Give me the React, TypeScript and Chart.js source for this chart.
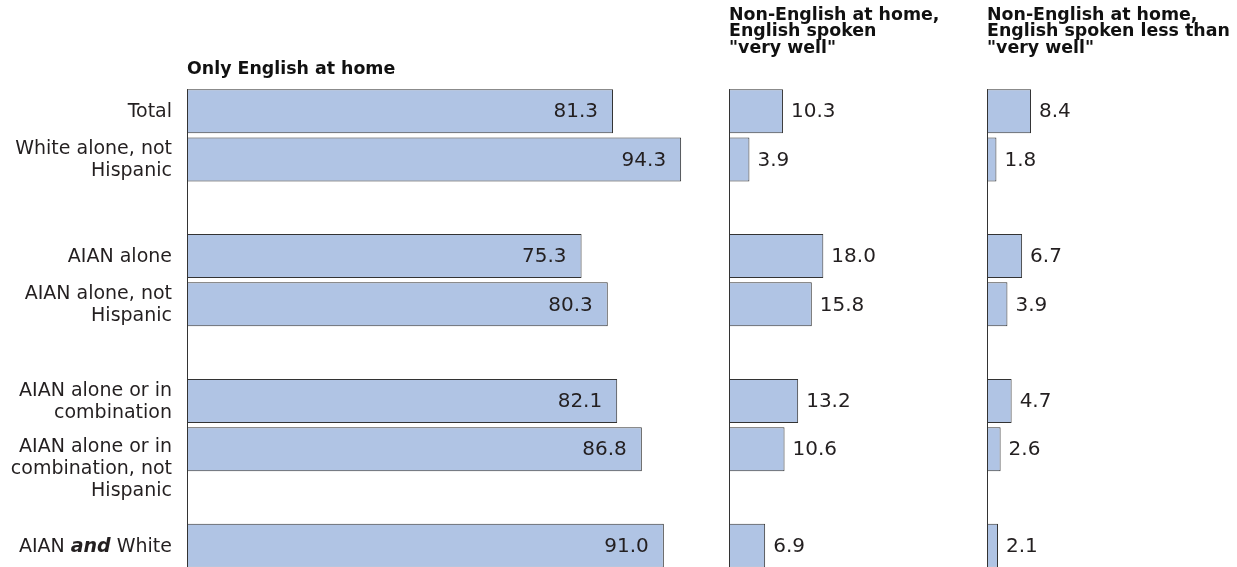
import React, { useEffect, useRef } from 'react';
import { Chart, registerables } from 'chart.js';

Chart.register(...registerables);

// ---- data ----
const categories: string[] = [
  'Total',
  'White alone, not\nHispanic',
  '',
  'AIAN alone',
  'AIAN alone, not\nHispanic',
  '',
  'AIAN alone or in\ncombination',
  'AIAN alone or in\ncombination, not\nHispanic',
  '',
  'AIAN *and* White',
];
const onlyEnglish: (number | null)[] = [81.3, 94.3, null, 75.3, 80.3, null, 82.1, 86.8, null, 91.0];
const veryWell: (number | null)[] = [10.3, 3.9, null, 18.0, 15.8, null, 13.2, 10.6, null, 6.9];
const lessThanVeryWell: (number | null)[] = [8.4, 1.8, null, 6.7, 3.9, null, 4.7, 2.6, null, 2.1];

const title1: string[] = ['Only English at home'];
const title2: string[] = ['Non-English at home,', 'English spoken', '"very well"'];
const title3: string[] = ['Non-English at home,', 'English spoken less than', '"very well"'];

// ---- styles ----
const BAR_FILL = '#b0c4e4';
const BAR_BORDER = '#333333';
const TEXT = '#231f20';
const LABEL_FONT = '19px "DejaVu Sans"';
const LABEL_BOLD_FONT = 'italic bold 19px "DejaVu Sans"';
const VALUE_FONT = '20px "DejaVu Sans"';
const TITLE_FONT = 'bold 17.4px "DejaVu Sans"';
const PX_PER_UNIT = 5.24;

type PanelOpts = {
  values: (number | null)[];
  max: number;
  padLeft: number;
  width: number;
  inside: boolean;
  title: string[];
  titleY: number[];
  showCategories: boolean;
};

function drawRich(ctx: CanvasRenderingContext2D, text: string, xRight: number, y: number) {
  const parts = text.split('*');
  const runs = parts.map((p, i) => ({ t: p, bold: i % 2 === 1 }));
  const fontFor = (b: boolean) => (b ? LABEL_BOLD_FONT : LABEL_FONT);
  let total = 0;
  for (const r of runs) {
    ctx.font = fontFor(r.bold);
    total += ctx.measureText(r.t).width;
  }
  let x = xRight - total;
  ctx.textAlign = 'left';
  for (const r of runs) {
    ctx.font = fontFor(r.bold);
    ctx.fillText(r.t, x, y);
    x += ctx.measureText(r.t).width;
  }
}

function makeChart(canvas: HTMLCanvasElement, o: PanelOpts) {
  const decor = {
    id: 'decor',
    afterDatasetsDraw(chart: any) {
      const ctx: CanvasRenderingContext2D = chart.ctx;
      const xs = chart.scales.x;
      const ys = chart.scales.y;
      const meta = chart.getDatasetMeta(0);
      ctx.save();
      // axis line
      const x0 = Math.round(xs.getPixelForValue(0)) + 0.5;
      const first = meta.data[0] as any;
      const top = first.y - first.height / 2;
      ctx.strokeStyle = BAR_BORDER;
      ctx.lineWidth = 1;
      ctx.beginPath();
      ctx.moveTo(x0, top);
      ctx.lineTo(x0, chart.height);
      ctx.stroke();
      // value labels
      ctx.fillStyle = TEXT;
      ctx.font = VALUE_FONT;
      ctx.textBaseline = 'middle';
      o.values.forEach((v, i) => {
        if (v == null) return;
        const bar = meta.data[i] as any;
        const txt = v.toFixed(1);
        if (o.inside) {
          ctx.textAlign = 'right';
          ctx.fillText(txt, bar.x - 15, bar.y + 1);
        } else {
          ctx.textAlign = 'left';
          ctx.fillText(txt, bar.x + 8, bar.y + 1);
        }
      });
      // category labels
      if (o.showCategories) {
        const lh = 22;
        categories.forEach((c, i) => {
          if (!c) return;
          const lines = c.split('\n');
          const cy = ys.getPixelForValue(i);
          const startY = lines.length === 3 ? cy - 3 : cy - ((lines.length - 1) * lh) / 2;
          lines.forEach((ln, k) => drawRich(ctx, ln, xs.left - 15, startY + k * lh + 1));
        });
      }
      // title
      ctx.font = TITLE_FONT;
      ctx.textAlign = 'left';
      ctx.textBaseline = 'alphabetic';
      ctx.fillStyle = '#111';
      o.title.forEach((t, k) => ctx.fillText(t, xs.left, o.titleY[k]));
      ctx.restore();
    },
  };

  const areaW = o.max * PX_PER_UNIT;
  return new Chart(canvas, {
    type: 'bar',
    data: {
      labels: categories.map((c) => c.replace(/\*/g, '')),
      datasets: [
        {
          data: o.values as any,
          backgroundColor: BAR_FILL,
          borderColor: BAR_BORDER,
          borderWidth: 1,
          borderSkipped: false,
          barPercentage: 0.91,
          categoryPercentage: 1,
        },
      ],
    },
    options: {
      indexAxis: 'y',
      responsive: false,
      maintainAspectRatio: false,
      animation: false,
      events: [],
      layout: { padding: { left: o.padLeft, right: o.width - o.padLeft - areaW, top: 87, bottom: 30 } },
      plugins: { legend: { display: false }, tooltip: { enabled: false }, title: { display: false } },
      scales: {
        x: { display: false, min: 0, max: o.max },
        y: { display: false },
      },
    },
    plugins: [decor],
  });
}

export default function App() {
  const c1 = useRef<HTMLCanvasElement>(null);
  const c2 = useRef<HTMLCanvasElement>(null);
  const c3 = useRef<HTMLCanvasElement>(null);

  useEffect(() => {
    const charts = [
      makeChart(c1.current!, {
        values: onlyEnglish, max: 100, padLeft: 187, width: 720, inside: true,
        title: title1, titleY: [74], showCategories: true,
      }),
      makeChart(c2.current!, {
        values: veryWell, max: 40, padLeft: 10, width: 258, inside: false,
        title: title2, titleY: [19.5, 36.3, 52.8], showCategories: false,
      }),
      makeChart(c3.current!, {
        values: lessThanVeryWell, max: 40, padLeft: 10, width: 260, inside: false,
        title: title3, titleY: [19.5, 36.3, 52.8], showCategories: false,
      }),
    ];
    return () => charts.forEach((c) => c.destroy());
  }, []);

  const canvasStyle = (left: number, w: number): React.CSSProperties => ({
    position: 'absolute', left, top: 0, width: w, height: 600,
  });

  return (
    <div style={{ position: 'absolute', left: 0, top: 0, width: 1237, height: 567, overflow: 'hidden', background: '#fff' }}>
      <canvas ref={c1} width={720} height={600} style={canvasStyle(0, 720)} />
      <canvas ref={c2} width={258} height={600} style={canvasStyle(719, 258)} />
      <canvas ref={c3} width={260} height={600} style={canvasStyle(977, 260)} />
    </div>
  );
}
